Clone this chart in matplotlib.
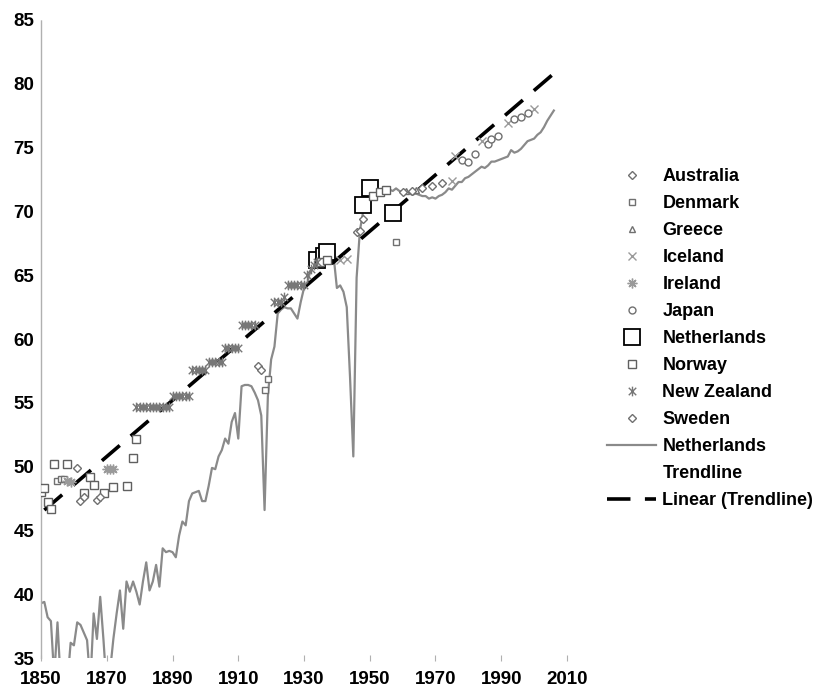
import matplotlib
matplotlib.use("Agg")
import matplotlib.pyplot as plt
from matplotlib.lines import Line2D
from matplotlib.path import Path

plt.rcParams['font.family'] = ['Liberation Sans', 'DejaVu Sans']

# Netherlands period life expectancy (line)
nl_years = list(range(1850, 2007))
nl_values = [
    39.3, 39.4, 38.2, 37.9, 33.5, 37.8, 33.0, 31.5, 33.0, 36.2,   # 1850-59
    36.0, 37.8, 37.6, 37.0, 36.4, 33.0, 38.5, 36.5, 39.8, 36.4,   # 1860-69
    32.5, 34.0, 36.5, 38.5, 40.3, 37.3, 41.0, 40.2, 41.0, 40.2,   # 1870-79
    39.2, 41.0, 42.5, 40.3, 41.0, 42.3, 40.6, 43.6, 43.3, 43.4,   # 1880-89
    43.3, 42.9, 44.6, 45.7, 45.4, 47.3, 47.9, 48.0, 48.1, 47.3,   # 1890-99
    47.3, 48.5, 49.9, 49.8, 50.8, 51.3, 52.2, 51.8, 53.5, 54.2,   # 1900-09
    52.2, 56.3, 56.4, 56.4, 56.3, 55.8, 55.2, 54.0, 46.6, 55.5,   # 1910-19
    58.4, 59.4, 62.0, 62.3, 62.5, 62.4, 62.4, 62.0, 61.6, 62.9,   # 1920-29
    64.0, 64.4, 65.4, 65.6, 66.0, 66.1, 66.2, 66.2, 66.3, 66.5,   # 1930-39
    64.0, 64.2, 63.7, 62.5, 57.0, 50.8, 64.8, 68.5, 70.0, 70.6,   # 1940-49
    71.2, 71.4, 71.6, 71.5, 71.8, 71.7, 71.7, 71.6, 71.8, 71.6,   # 1950-59
    71.5, 71.6, 71.4, 71.3, 71.4, 71.3, 71.2, 71.2, 71.0, 71.1,   # 1960-69
    71.0, 71.2, 71.3, 71.5, 71.8, 71.7, 72.0, 72.3, 72.3, 72.6,   # 1970-79
    72.7, 72.9, 73.1, 73.3, 73.5, 73.4, 73.6, 73.9, 73.9, 74.0,   # 1980-89
    74.1, 74.2, 74.3, 74.8, 74.6, 74.7, 74.9, 75.2, 75.5, 75.6,   # 1990-99
    75.7, 76.0, 76.2, 76.6, 77.1, 77.5, 77.9,                     # 2000-06
]

# record life expectancy by country (scatter)
australia_years = [1916, 1917]
australia_values = [57.9, 57.6]
denmark_years = [1855, 1856, 1857, 1918, 1919, 1958]
denmark_values = [48.9, 49.0, 49.0, 56.0, 56.9, 67.6]
greece_years = [1961, 1964]
greece_values = [71.6, 71.7]
iceland_years = [1941, 1943, 1975, 1976, 1984, 1992, 2000]
iceland_values = [66.2, 66.3, 72.4, 74.3, 75.5, 76.9, 78.0]
ireland_years = [1858, 1859, 1870, 1871, 1872]
ireland_values = [48.9, 48.8, 49.8, 49.8, 49.8]
japan_years = [1978, 1980, 1982, 1986, 1987, 1989, 1994, 1996, 1998]
japan_values = [74.0, 73.9, 74.5, 75.3, 75.7, 75.9, 77.2, 77.4, 77.7]
nl_pts_years = [1934, 1936, 1937, 1948, 1950, 1957]
nl_pts_values = [66.2, 66.5, 66.8, 70.5, 71.8, 69.9]
norway_years = [1850, 1851, 1852, 1853, 1854, 1858, 1863, 1865, 1866, 1869,
                1872, 1876, 1878, 1879, 1935, 1937, 1951, 1953, 1955]
norway_values = [48.0, 48.3, 47.2, 46.7, 50.2, 50.2, 47.9, 49.2, 48.6, 47.9,
                 48.4, 48.5, 50.7, 52.2, 66.0, 66.2, 71.2, 71.5, 71.7]
nz_years = [1879, 1880, 1881, 1882, 1883, 1884, 1885, 1886, 1887, 1888, 1889,
            1890, 1891, 1892, 1893, 1894, 1895,
            1896, 1897, 1898, 1899, 1900,
            1901, 1902, 1903, 1904, 1905,
            1906, 1907, 1908, 1909, 1910,
            1911, 1912, 1913, 1914, 1915,
            1921, 1922, 1923, 1924,
            1925, 1926, 1927, 1928, 1929, 1930,
            1931, 1932, 1933, 1934]
nz_values = [54.7] * 11 + [55.5] * 6 + [57.6] * 5 + [58.2] * 5 + [59.3] * 5 + \
            [61.1] * 5 + [62.9, 62.9, 62.9, 63.3] + [64.2] * 6 + [65.0, 65.5, 65.8, 66.0]
sweden_years = [1861, 1862, 1863, 1867, 1868, 1946, 1947, 1948,
                1960, 1963, 1966, 1969, 1972]
sweden_values = [49.9, 47.3, 47.6, 47.4, 47.6, 68.4, 68.5, 69.4,
                 71.5, 71.6, 71.8, 72.0, 72.2]

# linear trend of the record series
trend_years = [1851, 2006]
trend_values = [46.6, 80.8]

star = Path([(-1, -1), (1, 1), (-1, 1), (1, -1), (0, -1.3), (0, 1.3)],
            [Path.MOVETO, Path.LINETO] * 3)

fig = plt.figure(figsize=(8.21, 6.92), dpi=100)
ax = fig.add_axes([0.05, 0.049, 0.6406, 0.9222])

ax.plot(nl_years, nl_values, color='#8a8a8a', lw=1.6, zorder=2)
ax.plot(trend_years, trend_values, color='black', lw=2.6, dashes=(6.5, 4), zorder=3)

series = [
    ('Australia', australia_years, australia_values, dict(marker='D', ms=4.5, mec='#707070')),
    ('Denmark', denmark_years, denmark_values, dict(marker='s', ms=5, mec='#707070')),
    ('Greece', greece_years, greece_values, dict(marker='^', ms=5, mec='#707070')),
    ('Iceland', iceland_years, iceland_values, dict(marker='x', ms=6, mec='#9a9a9a')),
    ('Ireland', ireland_years, ireland_values, dict(marker=(8, 2, 0), ms=7, mec='#9a9a9a')),
    ('Japan', japan_years, japan_values, dict(marker='o', ms=5, mec='#707070')),
    ('Netherlands', nl_pts_years, nl_pts_values, dict(marker='s', ms=11, mec='black', mew=1.3)),
    ('Norway', norway_years, norway_values, dict(marker='s', ms=5.5, mec='#606060')),
    ('New Zealand', nz_years, nz_values, dict(marker=star, ms=7, mec='#777777')),
    ('Sweden', sweden_years, sweden_values, dict(marker='D', ms=4.5, mec='#707070')),
]

handles = []
labels = []
for name, xs, ys, style in series:
    mew = style.pop('mew', 1.0)
    ax.plot(xs, ys, ls='none', mfc='white', mew=mew, zorder=4, **style)
    handles.append(Line2D([], [], ls='none', mfc='white', mew=mew, **style))
    labels.append(name)

handles.append(Line2D([], [], color='#8a8a8a', lw=1.6))
labels.append('Netherlands')
handles.append(Line2D([], [], ls='none'))
labels.append('Trendline')
handles.append(Line2D([], [], color='black', lw=2.6, dashes=(6.5, 4)))
labels.append('Linear (Trendline)')

ax.set_xlim(1850, 2010)
ax.set_ylim(35, 85)
ax.set_xticks(range(1850, 2011, 20))
ax.set_yticks(range(35, 86, 5))

for s in ['top', 'right', 'bottom']:
    ax.spines[s].set_visible(False)
ax.spines['left'].set_color('#b0b0b0')
ax.spines['left'].set_linestyle((0, (1, 1)))
ax.spines['left'].set_linewidth(1)

ax.tick_params(axis='y', length=0, pad=5, labelsize=13.5)
ax.tick_params(axis='x', length=5, direction='inout', color='#b0b0b0', pad=7, labelsize=13.5)
for lbl in ax.get_xticklabels() + ax.get_yticklabels():
    lbl.set_fontweight('bold')

leg = ax.legend(handles, labels, loc='upper left', bbox_to_anchor=(0.739, 0.757),
                bbox_transform=fig.transFigure, frameon=False, borderpad=0,
                borderaxespad=0, handlelength=2.75, handletextpad=0.33,
                labelspacing=0.555, prop={'weight': 'bold', 'size': 13})

fig.savefig('out.png', dpi=100)
